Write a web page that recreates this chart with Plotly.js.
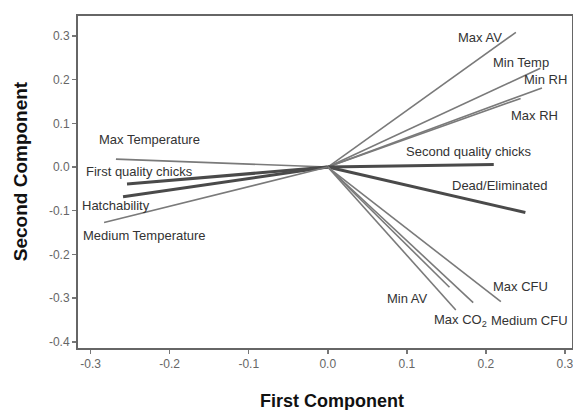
<!DOCTYPE html>
<html>
<head>
<meta charset="utf-8">
<script src="https://cdn.plot.ly/plotly-3.0.1.min.js"></script>
<style>html,body{margin:0;padding:0;background:#fff;}#chart{width:573px;height:410px;}</style>
</head>
<body>
<div id="chart"></div>
<script>
// Variable loadings (PC1, PC2)
const variables = ["Max AV","Min Temp","Min RH","Max RH","Second quality chicks","Dead/Eliminated",
  "Max CFU","Medium CFU","Max CO2","Min AV",
  "Max Temperature","First quality chicks","Hatchability","Medium Temperature"];
const pc1 = [0.238, 0.269, 0.271, 0.244, 0.210, 0.250, 0.219, 0.184, 0.162, 0.154, -0.268, -0.254, -0.259, -0.283];
const pc2 = [0.308, 0.226, 0.181, 0.157, 0.006, -0.104, -0.308, -0.310, -0.327, -0.275, 0.018, -0.039, -0.068, -0.127];
const thick = ["Second quality chicks","Dead/Eliminated","First quality chicks","Hatchability"];

// Tick labels
const xTickVals = [-0.3, -0.2, -0.1, 0.0, 0.1, 0.2, 0.3];
const xTickText = ["-0.3", "-0.2", "-0.1", "0.0", "0.1", "0.2", "0.3"];
const yTickVals = [-0.4, -0.3, -0.2, -0.1, 0.0, 0.1, 0.2, 0.3];
const yTickText = ["-0.4", "-0.3", "-0.2", "-0.1", "0.0", "0.1", "0.2", "0.3"];

const traces = variables.map((v,i)=>({
  type:'scatter', mode:'lines', name:v, showlegend:false, hoverinfo:'name',
  x:[0, pc1[i]], y:[0, pc2[i]],
  line:{color: thick.includes(v) ? '#4a4a4a' : '#7a7a7a', width: thick.includes(v) ? 3 : 1.6}
}));

const lblFont = {family:'Liberation Sans, Arial, sans-serif', size:13, color:'#333'};
function ann(text, x, y, xa){ return {text:text, x:x, y:y, xref:'x', yref:'y', showarrow:false, xanchor:xa||'center', yanchor:'middle', font:lblFont}; }

const layout = {
  width:573, height:410,
  margin:{l:78, r:1, t:16, b:62},
  paper_bgcolor:'#fff', plot_bgcolor:'#fff',
  font:{family:'Liberation Sans, Arial, sans-serif'},
  xaxis:{range:[-0.316,0.309], tickmode:'array', tickvals:xTickVals, ticktext:xTickText, zeroline:false, showgrid:false,
    showline:true, mirror:true, linecolor:'#666', linewidth:2, ticklabeloverflow:'allow',
    ticks:'outside', ticklen:4, tickcolor:'#777', tickwidth:1.5,
    tickfont:{size:12, color:'#666'}},
  yaxis:{range:[-0.414,0.3455], tickmode:'array', tickvals:yTickVals, ticktext:yTickText, zeroline:false, showgrid:false,
    showline:true, mirror:true, linecolor:'#666', linewidth:2, ticklabeloverflow:'allow',
    ticks:'outside', ticklen:4, tickcolor:'#777', tickwidth:1.5,
    tickfont:{size:12, color:'#666'}},
  annotations:[
    ann('Max AV', 0.193, 0.297),
    ann('Min Temp', 0.245, 0.240),
    ann('Min RH', 0.275, 0.201),
    ann('Max RH', 0.262, 0.117),
    ann('Second quality chicks', 0.179, 0.035),
    ann('Dead/Eliminated', 0.217, -0.043),
    ann('Max CFU', 0.244, -0.274),
    ann('Min AV', 0.101, -0.300),
    ann('Max CO<sub>2</sub>', 0.132, -0.350, 'left'),
    ann('Medium CFU', 0.306, -0.350, 'right'),
    ann('Max Temperature', -0.225, 0.062),
    ann('First quality chicks', -0.238, -0.011),
    ann('Hatchability', -0.313, -0.087, 'left'),
    ann('Medium Temperature', -0.232, -0.156),
    {text:'<b>First Component</b>', xref:'paper', yref:'paper', x:0.514, y:-0.16, showarrow:false,
      xanchor:'center', yanchor:'middle', font:{family:'Liberation Sans, Arial, sans-serif', size:18, color:'#111'}},
    {text:'<b>Second Component</b>', xref:'paper', yref:'paper', x:-0.117, y:0.533, showarrow:false, textangle:-90,
      xanchor:'center', yanchor:'middle', font:{family:'Liberation Sans, Arial, sans-serif', size:19, color:'#111'}}
  ]
};
Plotly.newPlot('chart', traces, layout, {displayModeBar:false, staticPlot:true});
</script>
</body>
</html>
